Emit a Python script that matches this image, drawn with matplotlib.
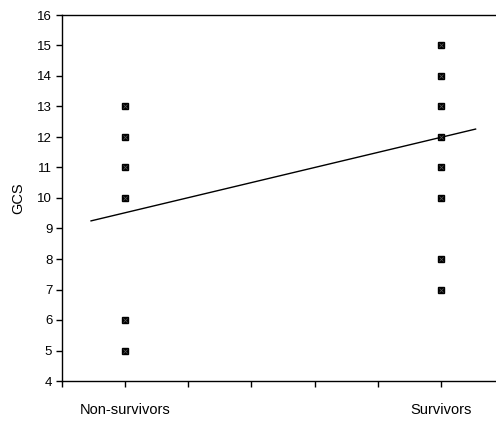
import matplotlib
matplotlib.use("Agg")
import matplotlib.pyplot as plt

plt.rcParams['font.family'] = ['Liberation Sans', 'DejaVu Sans']

categories = ["Non-survivors", "Survivors"]
cat_pos = [1, 6]
nonsurv_gcs = [13, 12, 11, 10, 6, 5]
surv_gcs = [15, 14, 13, 12, 11, 10, 8, 7]
trend_x = [0.46, 6.55]
trend_y = [9.25, 12.26]
y_ticks = list(range(4, 17))

fig = plt.figure(figsize=(4.96, 4.23), dpi=100)
ax = fig.add_axes([62/496, 1-381/423, (504-62)/496, (381-15)/423])

for xpos, vals in zip(cat_pos, [nonsurv_gcs, surv_gcs]):
    xs = [xpos]*len(vals)
    ax.plot(xs, vals, linestyle='none', marker='s', markersize=5.0,
            markerfacecolor='black', markeredgecolor='black', zorder=3)
    ax.plot(xs, vals, linestyle='none', marker='x', markersize=2.2,
            markeredgecolor='#5a5a5a', markeredgewidth=0.5, zorder=4)

ax.plot(trend_x, trend_y, color='black', linewidth=1.0, zorder=2)

ax.set_xlim(0, 7)
ax.set_ylim(4, 16)
ax.set_yticks(y_ticks)
ax.set_yticklabels([str(v) for v in y_ticks], fontsize=9.5)
ax.set_xticks(range(0, 8))
ax.set_xticklabels([''] * 8)
for xpos, name in zip(cat_pos, categories):
    ax.text(xpos, -0.08, name, transform=ax.get_xaxis_transform(),
            ha='center', va='center', fontsize=10.5)
ax.tick_params(axis='both', direction='out', length=4, width=1, colors='black')
ax.tick_params(axis='y', pad=3)
ax.set_ylabel('GCS', fontsize=10.5, labelpad=9)
for s in ['top', 'left', 'bottom', 'right']:
    ax.spines[s].set_linewidth(1.0)
    ax.spines[s].set_color('black')

fig.savefig('out.png', dpi=100)
